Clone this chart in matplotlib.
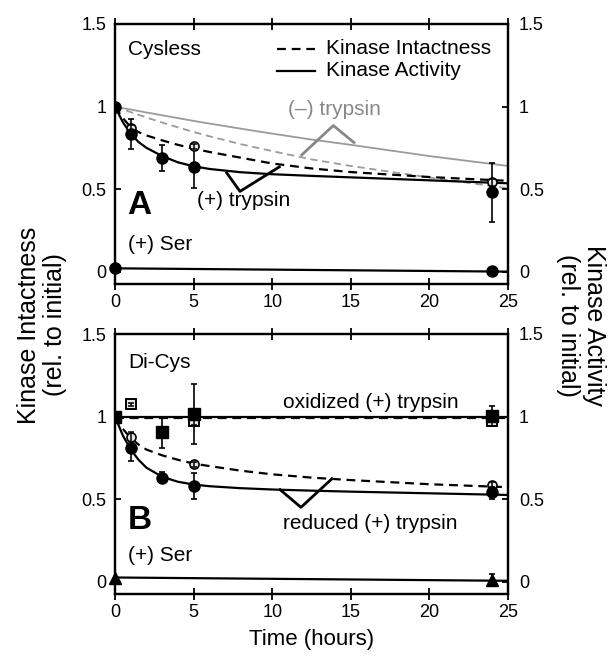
import matplotlib
matplotlib.use('Agg')
import matplotlib.pyplot as plt

plt.rcParams['font.family'] = ['Liberation Sans', 'DejaVu Sans']

# ---------------- data ----------------
x_ticks = [0, 5, 10, 15, 20, 25]
x_ticklabels = ['0', '5', '10', '15', '20', '25']
y_ticks = [0, 0.5, 1, 1.5]
y_ticklabels = ['0', '0.5', '1', '1.5']

curve_t = [0, 0.5, 1, 1.5, 2, 3, 4, 5, 6, 8, 10, 12.5, 15, 20, 25]

# Panel A (Cysless)
a_act_trp = [1.0, 0.905, 0.835, 0.785, 0.75, 0.70, 0.662, 0.638, 0.622, 0.602, 0.59, 0.58, 0.571, 0.553, 0.535]
a_int_trp = [1.0, 0.93, 0.875, 0.845, 0.825, 0.795, 0.768, 0.745, 0.725, 0.69, 0.655, 0.625, 0.603, 0.573, 0.55]
a_act_notrp = [1.0, 0.99, 0.982, 0.973, 0.964, 0.947, 0.93, 0.913, 0.897, 0.866, 0.836, 0.80, 0.768, 0.70, 0.64]
a_int_notrp = [1.0, 0.983, 0.966, 0.95, 0.934, 0.903, 0.874, 0.846, 0.82, 0.772, 0.73, 0.68, 0.64, 0.57, 0.505]

a_act_t = [0, 1, 3, 5, 24]
a_act_y = [1.0, 0.835, 0.69, 0.635, 0.48]
a_act_err = [0.0, 0.09, 0.08, 0.13, 0.18]
a_int_t = [1, 5, 24]
a_int_y = [0.87, 0.76, 0.54]
a_int_err = [0.02, 0.015, 0.02]

ser_line_t = [0, 25]
a_ser_line = [0.02, 0.0]
a_ser_t = [0, 24]
a_ser_y = [0.02, 0.005]

# Panel B (Di-Cys)
b_act_red = [1.0, 0.885, 0.80, 0.738, 0.69, 0.635, 0.605, 0.588, 0.578, 0.566, 0.558, 0.551, 0.545, 0.535, 0.525]
b_int_red = [1.0, 0.925, 0.87, 0.83, 0.80, 0.765, 0.738, 0.715, 0.70, 0.672, 0.65, 0.63, 0.615, 0.59, 0.572]
ox_line_t = [0, 25]
b_act_ox_line = [1.0, 1.0]
b_int_ox_line = [0.993, 0.993]

b_red_act_t = [0, 1, 3, 5, 24]
b_red_act_y = [1.0, 0.81, 0.63, 0.578, 0.545]
b_red_act_err = [0.0, 0.08, 0.035, 0.08, 0.045]
b_red_int_t = [1, 5, 24]
b_red_int_y = [0.875, 0.71, 0.587]
b_red_int_err = [0.03, 0.015, 0.015]

b_ox_act_t = [0, 3, 5, 24]
b_ox_act_y = [1.0, 0.905, 1.015, 1.005]
b_ox_act_err = [0.0, 0.095, 0.18, 0.06]
b_ox_int_t = [1, 5, 24]
b_ox_int_y = [1.073, 0.97, 0.975]
b_ox_int_err = [0.01, 0.02, 0.03]

b_ser_line = [0.025, 0.005]
b_ser_t = [0, 24]
b_ser_y = [0.02, 0.01]
b_ser_err = [0.0, 0.035]

# ---------------- figure ----------------
W, H = 612, 656
fig = plt.figure(figsize=(W / 100, H / 100), dpi=100)
L, R = 115 / W, 508 / W
axA = fig.add_axes([L, 1 - 284 / H, R - L, 260 / H])
axB = fig.add_axes([L, 1 - 594 / H, R - L, 260 / H])

GRAY = '#9a9a9a'
TICK_FS = 13
ANN_FS = 15


def style(ax):
    ax.set_xlim(0, 25)
    ax.set_ylim(-0.075, 1.5)
    for s in ax.spines.values():
        s.set_linewidth(1.6)
    ax.set_xticks(x_ticks)
    ax.set_xticklabels(x_ticklabels, fontsize=TICK_FS)
    ax.set_yticks(y_ticks)
    ax.set_yticklabels(y_ticklabels, fontsize=TICK_FS)
    ax.tick_params(axis='x', which='both', direction='inout', length=9, width=1.3,
                   top=True, pad=3)
    ax.tick_params(axis='y', direction='in', length=4, width=1.3, pad=6)
    ax2 = ax.twinx()
    ax2.set_ylim(ax.get_ylim())
    ax2.set_yticks(y_ticks)
    ax2.set_yticklabels(y_ticklabels, fontsize=TICK_FS)
    ax2.tick_params(axis='y', direction='in', length=4, width=1.3, pad=8)
    for s in ax2.spines.values():
        s.set_linewidth(1.6)
    return ax2


style(axA)
style(axB)

LW = 1.6
dash = (0, (4, 2.6))
ekw = dict(ecolor='black', elinewidth=1.2, capsize=2.5, capthick=1.2, linestyle='none', zorder=5)
ekw_top = dict(ecolor='black', elinewidth=1.1, capsize=2.0, capthick=1.1, linestyle='none', zorder=6.5)

# ----- Panel A -----
ax = axA
ax.plot(curve_t, a_act_notrp, color=GRAY, lw=1.3)
ax.plot(curve_t, a_int_notrp, color=GRAY, lw=1.3, linestyle=dash)
ax.plot(curve_t, a_int_trp, color='black', lw=LW, linestyle=dash)
ax.plot(curve_t, a_act_trp, color='black', lw=LW)
ax.plot(ser_line_t, a_ser_line, color='black', lw=LW)
ax.errorbar(a_act_t, a_act_y, yerr=a_act_err, **ekw)
ax.plot(a_int_t, a_int_y, 'o', ms=6.5, mfc='#e6e6e6', mec='black', mew=1.2, zorder=6)
ax.errorbar(a_int_t, a_int_y, yerr=a_int_err, **ekw_top)
ax.plot(a_act_t, a_act_y, 'o', ms=8, color='black', zorder=7)
ax.plot(a_ser_t, a_ser_y, 'o', ms=8, color='black', zorder=7, clip_on=False)

ax.text(0.85, 1.345, 'Cysless', fontsize=ANN_FS, va='center', ha='left')
ax.text(0.85, 0.165, '(+) Ser', fontsize=ANN_FS, va='center', ha='left')
ax.text(0.8, 0.40, 'A', fontsize=24, fontweight='bold', va='center', ha='left')
ax.text(11.0, 0.984, '(–) trypsin', fontsize=ANN_FS, color='#888888', va='center', ha='left')
ax.plot([11.88, 13.89, 15.2], [0.707, 0.885, 0.782], color='#888888', lw=2)
ax.text(5.2, 0.433, '(+) trypsin', fontsize=ANN_FS, va='center', ha='left')
ax.plot([7.1, 7.95, 10.45], [0.599, 0.486, 0.634], color='black', lw=2)

# legend (manual)
ax.plot([0.413, 0.51], [0.905, 0.905], transform=ax.transAxes, color='black', lw=LW, linestyle=dash)
ax.plot([0.413, 0.51], [0.82, 0.82], transform=ax.transAxes, color='black', lw=LW)
ax.text(0.537, 0.905, 'Kinase Intactness', transform=ax.transAxes, fontsize=ANN_FS, va='center', ha='left')
ax.text(0.537, 0.82, 'Kinase Activity', transform=ax.transAxes, fontsize=ANN_FS, va='center', ha='left')

# ----- Panel B -----
ax = axB
ax.plot(ox_line_t, b_act_ox_line, color='black', lw=LW)
ax.plot(ox_line_t, b_int_ox_line, color='black', lw=LW, linestyle=dash)
ax.plot(curve_t, b_int_red, color='black', lw=LW, linestyle=dash)
ax.plot(curve_t, b_act_red, color='black', lw=LW)
ax.plot(ser_line_t, b_ser_line, color='black', lw=LW)
ax.errorbar(b_ox_act_t, b_ox_act_y, yerr=b_ox_act_err, **ekw)
ax.errorbar(b_red_act_t, b_red_act_y, yerr=b_red_act_err, **ekw)
ax.plot(b_ox_int_t, b_ox_int_y, 's', ms=7, mfc='#e6e6e6', mec='black', mew=1.4, zorder=6)
ax.errorbar(b_ox_int_t, b_ox_int_y, yerr=b_ox_int_err, **ekw_top)
ax.plot(b_red_int_t, b_red_int_y, 'o', ms=6.5, mfc='#e6e6e6', mec='black', mew=1.2, zorder=6)
ax.errorbar(b_red_int_t, b_red_int_y, yerr=b_red_int_err, **ekw_top)
ax.plot(b_red_act_t, b_red_act_y, 'o', ms=8, color='black', zorder=7)
ax.plot(b_ox_act_t, b_ox_act_y, 's', ms=9, color='black', zorder=7)
ax.errorbar(b_ser_t, b_ser_y, yerr=b_ser_err, **ekw)
ax.plot(b_ser_t, b_ser_y, '^', ms=8, color='black', zorder=7, clip_on=False)

ax.text(0.85, 1.328, 'Di-Cys', fontsize=ANN_FS, va='center', ha='left')
ax.text(0.85, 0.16, '(+) Ser', fontsize=ANN_FS, va='center', ha='left')
ax.text(0.8, 0.37, 'B', fontsize=24, fontweight='bold', va='center', ha='left')
ax.text(10.7, 1.085, 'oxidized (+) trypsin', fontsize=ANN_FS, va='center', ha='left')
ax.text(10.7, 0.35, 'reduced (+) trypsin', fontsize=ANN_FS, va='center', ha='left')
ax.plot([10.5, 11.83, 13.8], [0.557, 0.45, 0.623], color='black', lw=2)

# ----- shared labels -----
fig.text(42 / W, 1 - 325 / H, 'Kinase Intactness\n(rel. to initial)', rotation=90,
         ha='center', va='center', fontsize=18, multialignment='center', linespacing=1.15)
fig.text(581 / W, 1 - 325 / H, 'Kinase Activity\n(rel. to initial)', rotation=-90,
         ha='center', va='center', fontsize=18, multialignment='center', linespacing=1.15)
fig.text(311.5 / W, 1 - 640 / H, 'Time (hours)', ha='center', va='center', fontsize=16)

fig.savefig('out.png', dpi=100)
